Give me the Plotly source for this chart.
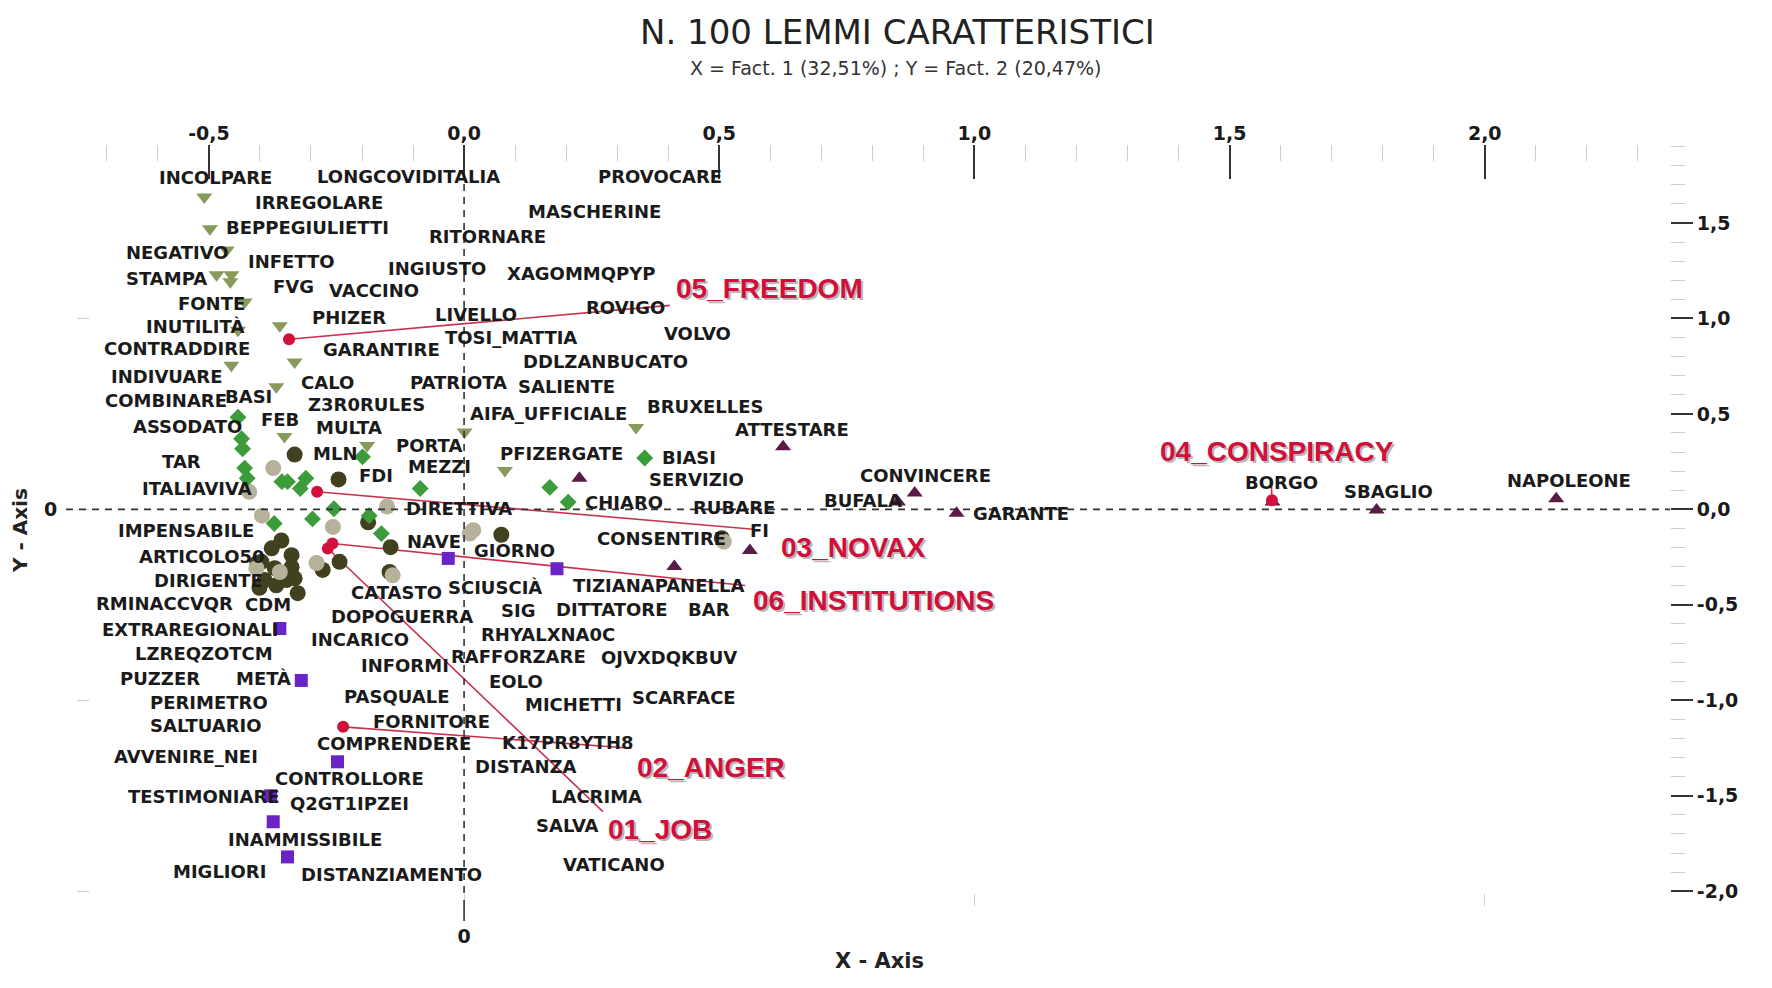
import plotly.graph_objects as go

# ---------------- data ----------------
title_text = "N. 100 LEMMI CARATTERISTICI"
subtitle_text = "X = Fact. 1 (32,51%) ; Y = Fact. 2 (20,47%)"

x_tick_vals = [-0.5, 0.0, 0.5, 1.0, 1.5, 2.0]
x_tick_text = ["-0,5", "0,0", "0,5", "1,0", "1,5", "2,0"]
y_tick_vals = [1.5, 1.0, 0.5, 0.0, -0.5, -1.0, -1.5, -2.0]
y_tick_text = ["1,5", "1,0", "0,5", "0,0", "-0,5", "-1,0", "-1,5", "-2,0"]

lemma_words = [
    "INCOLPARE", "LONGCOVIDITALIA", "PROVOCARE", "IRREGOLARE", "MASCHERINE",
    "BEPPEGIULIETTI", "RITORNARE", "NEGATIVO", "INFETTO", "INGIUSTO",
    "XAGOMMQPYP", "STAMPA", "FVG", "VACCINO", "FONTE", "ROVIGO", "LIVELLO",
    "PHIZER", "INUTILITÀ", "VOLVO", "TOSI_MATTIA", "CONTRADDIRE", "GARANTIRE",
    "DDLZANBUCATO", "INDIVUARE", "CALO", "PATRIOTA", "SALIENTE", "BASI",
    "COMBINARE", "Z3R0RULES", "BRUXELLES", "AIFA_UFFICIALE", "FEB", "ASSODATO",
    "MULTA", "ATTESTARE", "PORTA", "MLN", "PFIZERGATE", "BIASI", "TAR", "MEZZI",
    "FDI", "CONVINCERE", "SERVIZIO", "BORGO", "NAPOLEONE", "SBAGLIO",
    "ITALIAVIVA", "BUFALA", "CHIARO", "RUBARE", "DIRETTIVA", "GARANTE",
    "IMPENSABILE", "FI", "CONSENTIRE", "NAVE", "GIORNO", "ARTICOLO50",
    "DIRIGENTE", "TIZIANAPANELLA", "SCIUSCIÀ", "CATASTO", "RMINACCVQR", "CDM",
    "DITTATORE", "SIG", "BAR", "DOPOGUERRA", "EXTRAREGIONALI", "RHYALXNA0C",
    "INCARICO", "LZREQZOTCM", "RAFFORZARE", "OJVXDQKBUV", "INFORMI", "PUZZER",
    "METÀ", "EOLO", "PASQUALE", "SCARFACE", "PERIMETRO", "MICHETTI",
    "FORNITORE", "SALTUARIO", "K17PR8YTH8", "COMPRENDERE", "AVVENIRE_NEI",
    "DISTANZA", "CONTROLLORE", "TESTIMONIARE", "LACRIMA", "Q2GT1IPZEI", "SALVA",
    "INAMMISSIBILE", "VATICANO", "MIGLIORI", "DISTANZIAMENTO",
]
lemma_x = [
    -0.602, -0.292, 0.259, -0.414, 0.122,
    -0.470, -0.073, -0.667, -0.427, -0.153,
    0.080, -0.667, -0.379, -0.268, -0.565, 0.235, -0.060,
    -0.301, -0.627, 0.388, -0.042, -0.709, -0.281,
    0.111, -0.695, -0.323, -0.109, 0.102, -0.472,
    -0.707, -0.310, 0.354, 0.007, -0.401, -0.653,
    -0.295, 0.527, -0.137, -0.299, 0.066, 0.383, -0.596, -0.113,
    -0.210, 0.771, 0.359, 1.526, 2.040, 1.721,
    -0.636, 0.702, 0.233, 0.445, -0.117, 0.994,
    -0.682, 0.556, 0.257, -0.115, 0.016, -0.640,
    -0.611, 0.210, -0.035, -0.226, -0.726, -0.434,
    0.177, 0.069, 0.434, -0.264, -0.713, 0.029,
    -0.303, -0.649, -0.029, 0.264, -0.206, -0.678,
    -0.450, 0.044, -0.239, 0.326, -0.620, 0.115,
    -0.182, -0.620, 0.071, -0.292, -0.689,
    0.018, -0.374, -0.662, 0.166, -0.346, 0.137,
    -0.467, 0.190, -0.574, -0.323,
]
lemma_y = [
    1.737, 1.743, 1.743, 1.607, 1.559,
    1.476, 1.429, 1.346, 1.299, 1.263,
    1.234, 1.210, 1.169, 1.145, 1.080, 1.056, 1.021,
    1.003, 0.956, 0.920, 0.902, 0.843, 0.837,
    0.772, 0.695, 0.666, 0.666, 0.642, 0.589,
    0.571, 0.547, 0.541, 0.500, 0.470, 0.435,
    0.429, 0.417, 0.336, 0.295, 0.295, 0.272, 0.251, 0.222,
    0.175, 0.175, 0.157, 0.139, 0.151, 0.092,
    0.109, 0.044, 0.038, 0.009, 0.003, -0.021,
    -0.109, -0.109, -0.151, -0.169, -0.216, -0.246,
    -0.370, -0.399, -0.411, -0.435, -0.494, -0.500,
    -0.524, -0.530, -0.524, -0.559, -0.630, -0.654,
    -0.683, -0.754, -0.772, -0.778, -0.820, -0.885,
    -0.885, -0.902, -0.979, -0.985, -1.009, -1.021,
    -1.109, -1.133, -1.222, -1.228, -1.293,
    -1.346, -1.411, -1.506, -1.506, -1.541, -1.654,
    -1.731, -1.861, -1.897, -1.914,
]

# category points (lemma markers), one list pair per category
freedom_x = [-0.509, -0.498, -0.465, -0.485, -0.456, -0.458, -0.430, -0.443, -0.361,
             -0.332, -0.456, -0.368, -0.352, -0.190, 0.001, 0.080, 0.337]
freedom_y = [1.636, 1.470, 1.358, 1.228, 1.228, 1.192, 1.086, 0.938, 0.962,
             0.772, 0.754, 0.642, 0.382, 0.334, 0.405, 0.204, 0.429]

novax_x = [-0.443, -0.436, -0.434, -0.430, -0.425, -0.357, -0.346, -0.310, -0.321, -0.199,
           -0.086, -0.255, -0.297, -0.372, -0.186, -0.162, 0.168, 0.204, 0.354]
novax_y = [0.482, 0.370, 0.317, 0.216, 0.163, 0.145, 0.145, 0.163, 0.109, 0.275,
           0.109, 0.003, -0.050, -0.074, -0.033, -0.127, 0.115, 0.038, 0.269]

conspiracy_x = [0.625, 0.226, 0.560, 0.412, 0.850, 0.883, 0.965, 1.584, 1.788, 2.140]
conspiracy_y = [0.328, 0.163, -0.216, -0.299, 0.038, 0.086, -0.021, 0.038, -0.003, 0.056]

anger_x = [-0.031, 0.182, -0.361, -0.319, -0.248, -0.379, -0.374, -0.346]
anger_y = [-0.257, -0.311, -0.624, -0.896, -1.322, -1.500, -1.636, -1.820]

job_x = [-0.332, -0.246, -0.188, -0.144, 0.073, 0.505, -0.358, -0.377, -0.338, -0.397,
         -0.371, -0.338, -0.391, -0.348, -0.332, -0.401, -0.368, -0.326, -0.405, -0.244,
         -0.277, -0.146]
job_y = [0.287, 0.157, -0.068, -0.198, -0.133, -0.151, -0.163, -0.204, -0.240, -0.275,
         -0.308, -0.303, -0.370, -0.370, -0.361, -0.411, -0.398, -0.439, -0.281, -0.275,
         -0.317, -0.328]

institutions_x = [-0.374, -0.396, -0.257, -0.151, 0.011, 0.018, -0.361, -0.407, -0.289,
                  -0.140, 0.509, -0.421]
institutions_y = [0.216, -0.033, -0.092, 0.015, -0.127, -0.109, -0.328, -0.308, -0.281,
                  -0.345, -0.169, 0.092]

# category centroids, leader-line ends and label anchors
cat_names = ["05_FREEDOM", "03_NOVAX", "06_INSTITUTIONS", "01_JOB", "02_ANGER", "04_CONSPIRACY"]
cat_x = [-0.343, -0.288, -0.258, -0.267, -0.237, 1.583]
cat_y = [0.891, 0.092, -0.179, -0.205, -1.139, 0.048]
cat_line_x = [0.403, 0.567, 0.551, 0.272, 0.328, 1.582]
cat_line_y = [1.068, -0.104, -0.399, -1.583, -1.251, 0.133]
cat_label_x = [0.412, 0.618, 0.563, 0.279, 0.334, 1.360]
cat_label_y = [1.157, -0.198, -0.476, -1.677, -1.352, 0.305]

# ---------------- figure ----------------
W, H = 1772, 988
OFF = 8  # page body margin
ML, MR, MT, MB = 90 - OFF, 102 + OFF, 145 - OFF, 95 + OFF
X_RANGE = [-0.733, 2.363]
Y_RANGE = [-2.009, 1.908]

fig = go.Figure()

# leader lines
for i in range(len(cat_names)):
    fig.add_trace(go.Scatter(
        x=[cat_x[i], cat_line_x[i]], y=[cat_y[i], cat_line_y[i]],
        mode="lines", line=dict(color="#C8324F", width=1.6),
        hoverinfo="skip", showlegend=False))

series = [
    ("01_JOB", job_x, job_y, "circle", "#41411F", 16),
    ("06_INSTITUTIONS", institutions_x, institutions_y, "circle", "#B5B19B", 16),
    ("03_NOVAX", novax_x, novax_y, "diamond", "#3C9C3C", 13),
    ("05_FREEDOM", freedom_x, freedom_y, "triangle-down", "#889A5A", 14),
    ("04_CONSPIRACY", conspiracy_x, conspiracy_y, "triangle-up", "#5C1B46", 14),
    ("02_ANGER", anger_x, anger_y, "square", "#6A24C6", 13),
]
for name, xs, ys, sym, col, sz in series:
    fig.add_trace(go.Scatter(
        x=xs, y=ys, mode="markers", name=name,
        marker=dict(symbol=sym, color=col, size=sz, line=dict(width=0)),
        showlegend=False))

# centroids
fig.add_trace(go.Scatter(
    x=cat_x, y=cat_y, mode="markers", text=cat_names,
    marker=dict(symbol="circle", color="#D3103C", size=12, line=dict(width=0)),
    showlegend=False))

annotations = []
for w, x, y in zip(lemma_words, lemma_x, lemma_y):
    annotations.append(dict(
        x=x, y=y, xref="x", yref="y", text=w, showarrow=False,
        xanchor="left", yanchor="middle",
        font=dict(family="DejaVu Sans", size=18, color="#1a1a1a", weight="bold")))

for n, x, y in zip(cat_names, cat_label_x, cat_label_y):
    annotations.append(dict(
        x=x, y=y, xref="x", yref="y", text=n, showarrow=False,
        xanchor="left", yanchor="middle", xshift=2, yshift=-2,
        font=dict(family="Liberation Sans", size=28, color="#B8B8B8", weight="bold")))
    annotations.append(dict(
        x=x, y=y, xref="x", yref="y", text=n, showarrow=False,
        xanchor="left", yanchor="middle",
        font=dict(family="Liberation Sans", size=28, color="#D0103A", weight="bold")))

pw, ph = W - ML - MR, H - MT - MB
def px_x(p):
    return (p - OFF - ML) / pw
def px_y(p):
    return (H - MB - (p - OFF)) / ph

annotations += [
    dict(x=px_x(898), y=px_y(32), xref="paper", yref="paper", text=title_text,
         showarrow=False, xanchor="center", yanchor="middle",
         font=dict(family="DejaVu Sans", size=34, color="#222222")),
    dict(x=px_x(896), y=px_y(68), xref="paper", yref="paper", text=subtitle_text,
         showarrow=False, xanchor="center", yanchor="middle",
         font=dict(family="DejaVu Sans", size=19, color="#333333")),
    dict(x=px_x(879), y=px_y(961), xref="paper", yref="paper", text="X - Axis",
         showarrow=False, xanchor="center", yanchor="middle",
         font=dict(family="DejaVu Sans", size=21, color="#222222", weight="bold")),
    dict(x=px_x(20), y=px_y(531), xref="paper", yref="paper", text="Y - Axis",
         showarrow=False, xanchor="center", yanchor="middle", textangle=-90,
         font=dict(family="DejaVu Sans", size=20, color="#222222", weight="bold")),
]

shapes = [
    dict(type="line", xref="paper", yref="y", x0=px_x(66), x1=1, y0=0, y1=0,
         line=dict(color="#333333", width=1.6, dash="7px,6px")),
    dict(type="line", xref="x", yref="paper", x0=0, x1=0, y0=0, y1=1,
         line=dict(color="#333333", width=1.6, dash="7px,6px")),
    dict(type="line", xref="x", yref="paper", x0=0, x1=0, y0=px_y(900), y1=px_y(921),
         line=dict(color="#333333", width=1.6)),
]

tickfont = dict(family="DejaVu Sans", size=19, color="#1a1a1a", weight="bold")

fig.update_layout(
    width=W, height=H,
    margin=dict(l=ML, r=MR, t=MT, b=MB),
    plot_bgcolor="white", paper_bgcolor="white",
    showlegend=False,
    annotations=annotations, shapes=shapes,
    xaxis=dict(
        range=X_RANGE, side="top", showgrid=False, zeroline=False, showline=False,
        tickmode="array", tickvals=x_tick_vals, ticktext=x_tick_text,
        ticks="inside", ticklen=34, tickwidth=1.5, tickcolor="#333333",
        tickfont=tickfont,
        minor=dict(tickmode="linear", tick0=-0.7, dtick=0.1, ticks="inside",
                   ticklen=16, tickwidth=1, tickcolor="#CFCFCF", showgrid=False),
    ),
    xaxis2=dict(
        range=X_RANGE, overlaying="x", side="bottom", anchor="y",
        showgrid=False, zeroline=False, showline=False,
        tickmode="array", tickvals=[0, 1, 2], ticktext=["0", "", ""],
        ticks="outside", ticklen=12, tickwidth=1, tickcolor="#CFCFCF",
        ticklabelstandoff=14, tickfont=tickfont,
    ),
    yaxis=dict(
        range=Y_RANGE, side="right", showgrid=False, zeroline=False, showline=False,
        tickmode="array", tickvals=y_tick_vals, ticktext=y_tick_text,
        ticks="outside", ticklen=22, tickwidth=1.5, tickcolor="#333333",
        tickfont=tickfont,
        minor=dict(tickmode="linear", tick0=-2.0, dtick=0.1, ticks="outside",
                   ticklen=14, tickwidth=1, tickcolor="#CFCFCF", showgrid=False),
    ),
    yaxis2=dict(
        range=Y_RANGE, overlaying="y", side="left", anchor="x",
        showgrid=False, zeroline=False, showline=False,
        tickmode="array", tickvals=[1, 0, -1, -2], ticktext=["", "0", "", ""],
        ticks="outside", ticklen=12, tickwidth=1, tickcolor="#CFCFCF",
        ticklabelstandoff=16, tickfont=tickfont,
    ),
)

# dummy trace to activate secondary axes
fig.add_trace(go.Scatter(x=[None], y=[None], xaxis="x2", yaxis="y2",
                         mode="markers", showlegend=False, hoverinfo="skip"))

fig.write_html("out.html")
